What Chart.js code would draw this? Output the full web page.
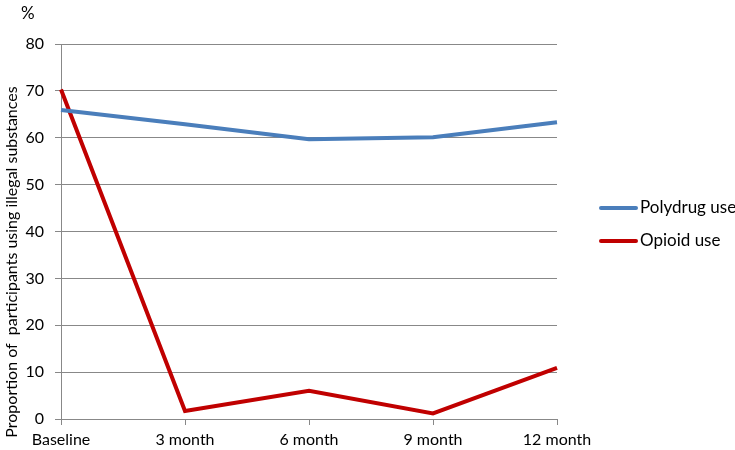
<!DOCTYPE html>
<html>
<head>
<meta charset="utf-8">
<script src="https://cdn.jsdelivr.net/npm/chart.js@4/dist/chart.umd.min.js"></script>
<style>
  html, body { margin: 0; padding: 0; background: #fff; }
  #wrap { width: 735px; height: 450px; position: relative; }
</style>
</head>
<body>
<div id="wrap"><canvas id="chart" width="735" height="450"></canvas></div>
<script>
// Data
const categories = ['Baseline', '3 month', '6 month', '9 month', '12 month'];
const polydrugUse = [65.9, 62.9, 59.7, 60.1, 63.3];
const opioidUse = [70.3, 1.7, 6.0, 1.2, 10.9];
const seriesLabels = ['Polydrug use', 'Opioid use'];
const yMin = 0, yMax = 80, yStep = 10;
const yTitle = 'Proportion of  participants using illegal substances';
const unitLabel = '%';

const FONT = 'Lato, "Open Sans", sans-serif';
const gridColor = '#888888';

// draws the legend, the % sign and the y title where the original has them
const extras = {
    id: 'extras',
    afterDraw(chart) {
        const ctx = chart.ctx;
        ctx.save();
        ctx.fillStyle = '#000';
        ctx.font = '17px ' + FONT;
        ctx.textBaseline = 'middle';
        ctx.textAlign = 'left';
        ctx.fillText(unitLabel, 21, 14);

        // y title
        ctx.save();
        ctx.translate(12, 262);
        ctx.rotate(-Math.PI / 2);
        ctx.textAlign = 'center';
        ctx.font = '16px ' + FONT;
        ctx.fillText(yTitle, 0, 0);
        ctx.restore();

        // legend
        chart.data.datasets.forEach((ds, i) => {
            const y = 208 + i * 33;
            ctx.strokeStyle = ds.borderColor;
            ctx.lineWidth = 4;
            ctx.lineCap = 'round';
            ctx.beginPath();
            ctx.moveTo(601, y);
            ctx.lineTo(636, y);
            ctx.stroke();
            ctx.font = '17px ' + FONT;
            ctx.textAlign = 'left';
            ctx.fillText(ds.label, 640, y);
        });
        ctx.restore();
    }
};

new Chart(document.getElementById('chart'), {
    type: 'line',
    data: {
        labels: categories,
        datasets: [
            { label: seriesLabels[0], data: polydrugUse, borderColor: '#4A7EBB', borderWidth: 4, pointRadius: 0, tension: 0 },
            { label: seriesLabels[1], data: opioidUse, borderColor: '#C00000', borderWidth: 4, pointRadius: 0, tension: 0 }
        ]
    },
    options: {
        responsive: false,
        animation: false,
        layout: { padding: { top: 44, right: 178, bottom: 0, left: 0 } },
        plugins: { legend: { display: false }, tooltip: { enabled: false } },
        scales: {
            x: {
                offset: false,
                grid: { drawOnChartArea: false, drawTicks: true, tickLength: 6, color: gridColor },
                border: { color: gridColor },
                ticks: { color: '#000', font: { size: 16, family: FONT }, padding: 5, maxRotation: 0, autoSkip: false },
                afterFit: s => { s.height = 31; }
            },
            y: {
                min: yMin, max: yMax,
                grid: { color: gridColor, tickLength: 6 },
                border: { color: gridColor },
                ticks: { stepSize: yStep, color: '#000', font: { size: 16, family: FONT }, padding: 11 },
                afterFit: s => { s.width = 61; }
            }
        }
    },
    plugins: [extras]
});
</script>
</body>
</html>
